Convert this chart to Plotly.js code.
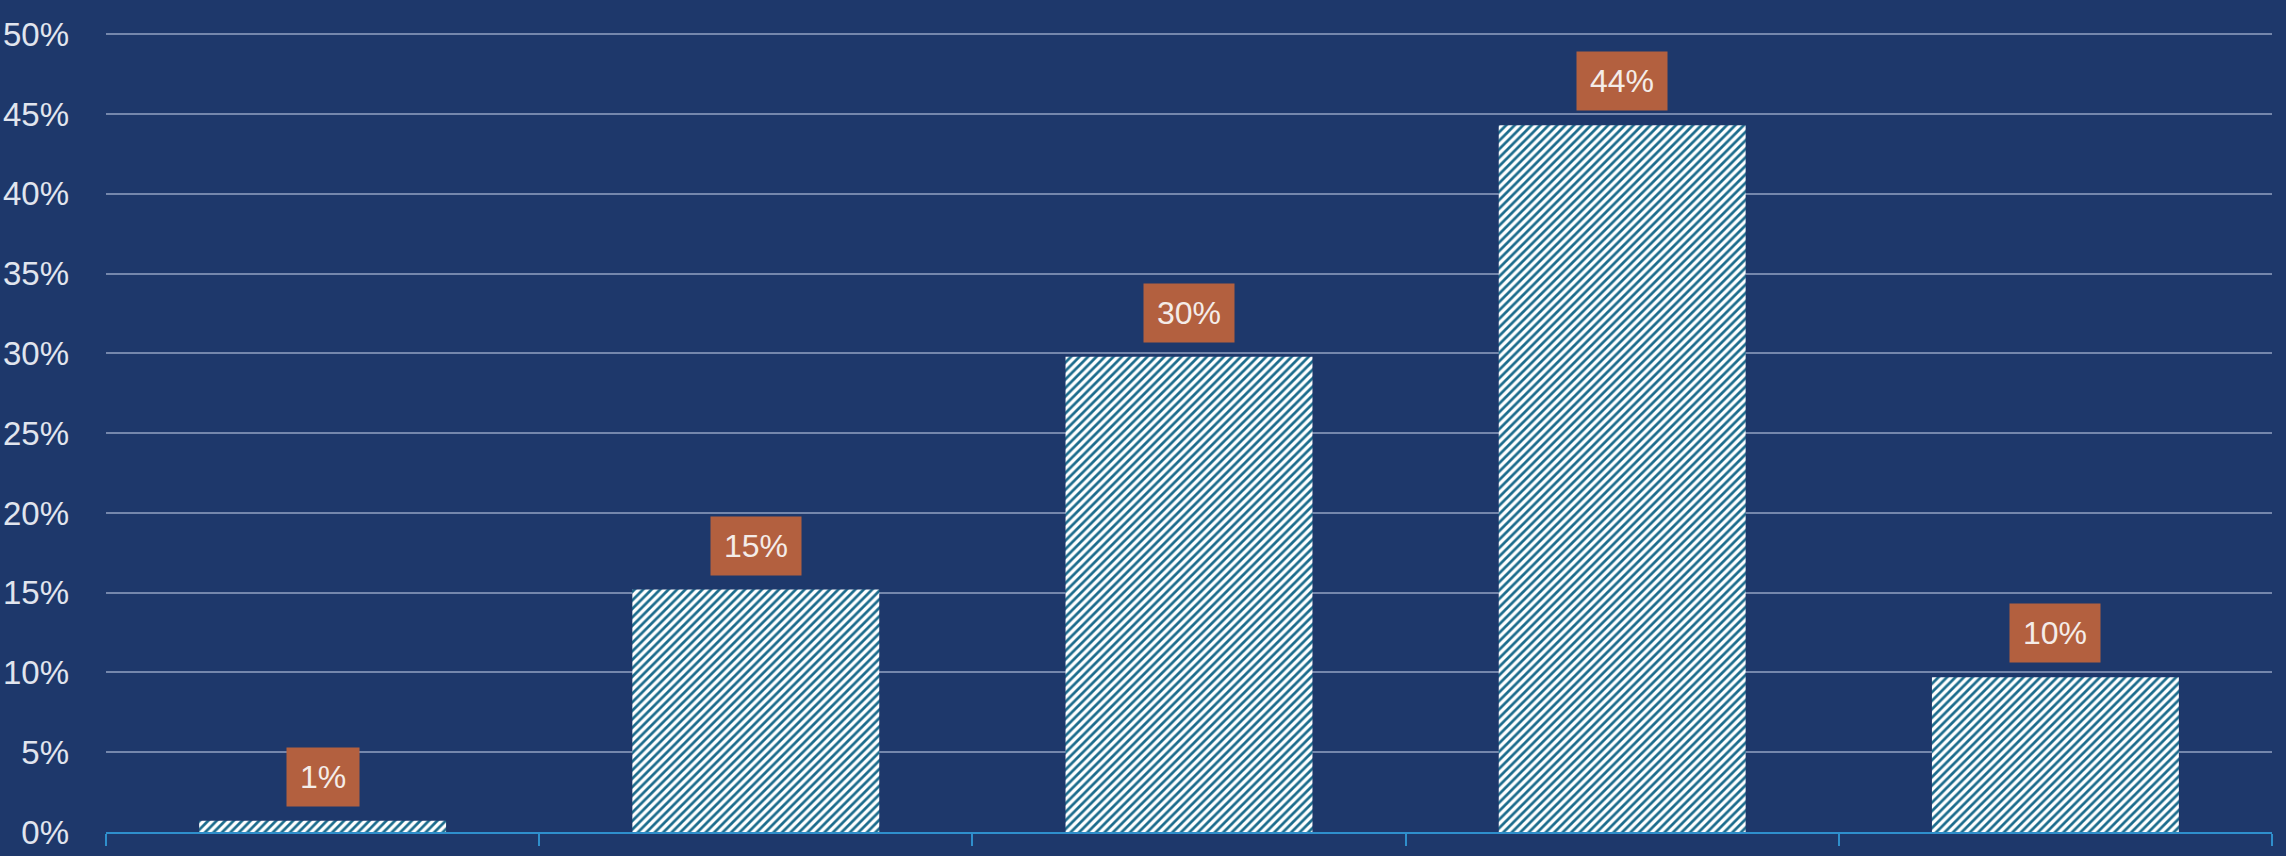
<!DOCTYPE html>
<html>
<head>
<meta charset="utf-8">
<script src="https://cdn.plot.ly/plotly-3.0.1.min.js"></script>
<style>
html,body{margin:0;padding:0;background:#1e386b;}
#chart{width:2286px;height:856px;}
</style>
</head>
<body>
<div id="chart"></div>
<script>
const categories = ['A', 'B', 'C', 'D', 'E'];
const values = [0.7, 15.2, 29.8, 44.3, 9.7];
const labels = ['1%', '15%', '30%', '44%', '10%'];
const yTickValues = [0, 5, 10, 15, 20, 25, 30, 35, 40, 45, 50];

const bg = '#1e386b';
const font = 'Liberation Sans, Arial, sans-serif';

const trace = {
  type: 'bar',
  x: categories,
  y: values,
  marker: {
    color: '#ffffff',
    line: {width: 0},
    pattern: {shape: '/', fgcolor: '#1b6b8c', bgcolor: '#ffffff', size: 6, solidity: 0.45}
  },
  hoverinfo: 'skip'
};

const annotations = categories.map((c, i) => ({
  x: i, y: values[i], xref: 'x', yref: 'y',
  text: labels[i], showarrow: false,
  xanchor: 'center', yanchor: 'bottom', yshift: 14,
  bgcolor: '#b3603f', borderpad: 13, height: 32,
  font: {family: font, size: 32, color: '#f4ece8'}
}));

const layout = {
  width: 2286, height: 856,
  paper_bgcolor: bg, plot_bgcolor: bg,
  margin: {l: 106, r: 14, t: 32, b: 24},
  bargap: 0.43,
  showlegend: false,
  xaxis: {
    type: 'category',
    range: [-0.5, categories.length - 0.5],
    autorange: false,
    showticklabels: false,
    showgrid: false,
    showline: true, linecolor: '#2f8fcc', linewidth: 2,
    ticks: 'outside', tickson: 'boundaries', ticklen: 12, tickcolor: '#2f8fcc', tickwidth: 2,
    zeroline: false
  },
  yaxis: {
    range: [0, 50.15],
    autorange: false,
    tickvals: yTickValues,
    ticktext: yTickValues.map(v => v + '%'),
    showgrid: true, gridcolor: 'rgba(175,188,215,0.6)', gridwidth: 2,
    zeroline: false, showline: false, ticks: '',
    ticklabelstandoff: 36,
    tickfont: {family: font, size: 33, color: '#e1e5ee'}
  },
  annotations: annotations
};

Plotly.newPlot('chart', [trace], layout, {displayModeBar: false, staticPlot: true});
</script>
</body>
</html>
